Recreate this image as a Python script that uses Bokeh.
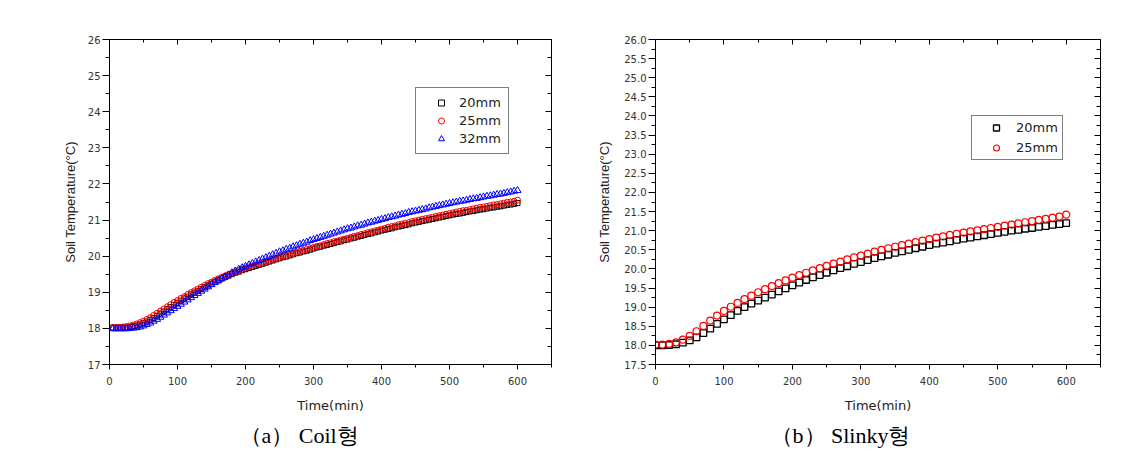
from bokeh.plotting import figure
from bokeh.layouts import row
from bokeh.models import (FixedTicker, LinearAxis, Legend, LegendItem, Title,
                          PrintfTickFormatter, Range1d, CustomJSTickFormatter)
from bokeh.embed import file_html
from bokeh.resources import INLINE

# ---------------- data: (a) Coil type ----------------
coil_time = list(range(5, 601, 5))
coil_20mm = [18.02, 18.02, 18.02, 18.02, 18.03, 18.04, 18.06, 18.08, 18.11, 18.15,
             18.19, 18.24, 18.29, 18.35, 18.41, 18.47, 18.53, 18.59, 18.65, 18.71,
             18.77, 18.83, 18.88, 18.94, 18.99, 19.04, 19.09, 19.14, 19.19, 19.24,
             19.29, 19.33, 19.38, 19.42, 19.46, 19.50, 19.54, 19.57, 19.61, 19.64,
             19.67, 19.70, 19.73, 19.76, 19.79, 19.82, 19.85, 19.88, 19.91, 19.94,
             19.97, 19.99, 20.02, 20.05, 20.08, 20.10, 20.13, 20.15, 20.18, 20.21,
             20.24, 20.26, 20.29, 20.31, 20.34, 20.36, 20.39, 20.41, 20.44, 20.46,
             20.49, 20.51, 20.54, 20.56, 20.59, 20.61, 20.63, 20.66, 20.68, 20.71,
             20.73, 20.75, 20.77, 20.80, 20.82, 20.84, 20.86, 20.88, 20.91, 20.93,
             20.95, 20.97, 20.99, 21.01, 21.03, 21.05, 21.07, 21.09, 21.11, 21.13,
             21.15, 21.17, 21.18, 21.20, 21.22, 21.24, 21.25, 21.27, 21.29, 21.30,
             21.32, 21.34, 21.35, 21.37, 21.38, 21.40, 21.42, 21.43, 21.45, 21.47]
coil_25mm = [18.03, 18.03, 18.03, 18.04, 18.05, 18.07, 18.09, 18.12, 18.16, 18.20,
             18.25, 18.30, 18.36, 18.42, 18.48, 18.54, 18.60, 18.66, 18.72, 18.77,
             18.83, 18.88, 18.94, 18.99, 19.04, 19.09, 19.14, 19.19, 19.24, 19.28,
             19.33, 19.37, 19.41, 19.45, 19.49, 19.53, 19.57, 19.60, 19.64, 19.67,
             19.70, 19.73, 19.76, 19.79, 19.82, 19.85, 19.88, 19.91, 19.94, 19.97,
             20.00, 20.02, 20.05, 20.08, 20.11, 20.13, 20.16, 20.19, 20.21, 20.24,
             20.27, 20.29, 20.32, 20.35, 20.37, 20.40, 20.42, 20.45, 20.47, 20.50,
             20.52, 20.55, 20.57, 20.60, 20.62, 20.65, 20.67, 20.70, 20.72, 20.75,
             20.77, 20.80, 20.82, 20.84, 20.87, 20.89, 20.91, 20.93, 20.96, 20.98,
             21.00, 21.02, 21.04, 21.06, 21.08, 21.10, 21.12, 21.14, 21.16, 21.18,
             21.20, 21.22, 21.24, 21.26, 21.27, 21.29, 21.31, 21.33, 21.35, 21.36,
             21.38, 21.40, 21.42, 21.43, 21.45, 21.47, 21.49, 21.50, 21.52, 21.55]
coil_32mm = [17.99, 17.99, 17.99, 17.99, 17.99, 18.00, 18.01, 18.02, 18.04, 18.07,
             18.11, 18.15, 18.20, 18.25, 18.31, 18.37, 18.43, 18.49, 18.55, 18.61,
             18.67, 18.73, 18.79, 18.85, 18.91, 18.97, 19.03, 19.09, 19.15, 19.21,
             19.27, 19.32, 19.38, 19.43, 19.48, 19.54, 19.59, 19.64, 19.68, 19.72,
             19.76, 19.80, 19.84, 19.88, 19.92, 19.96, 20.00, 20.04, 20.08, 20.12,
             20.15, 20.19, 20.22, 20.26, 20.29, 20.33, 20.36, 20.39, 20.43, 20.46,
             20.49, 20.52, 20.55, 20.58, 20.61, 20.64, 20.67, 20.70, 20.73, 20.76,
             20.78, 20.81, 20.84, 20.86, 20.89, 20.92, 20.94, 20.97, 20.99, 21.02,
             21.04, 21.07, 21.09, 21.11, 21.14, 21.16, 21.18, 21.21, 21.23, 21.25,
             21.27, 21.29, 21.31, 21.34, 21.36, 21.38, 21.40, 21.42, 21.44, 21.46,
             21.48, 21.50, 21.52, 21.53, 21.55, 21.57, 21.59, 21.60, 21.62, 21.64,
             21.66, 21.67, 21.69, 21.71, 21.72, 21.74, 21.76, 21.78, 21.80, 21.82]

# ---------------- data: (b) Slinky type ----------------
slinky_time = list(range(0, 601, 10))
slinky_20mm = [18.00, 18.00, 18.01, 18.03, 18.07, 18.13, 18.21, 18.32, 18.44, 18.56,
               18.68, 18.79, 18.90, 19.00, 19.09, 19.17, 19.25, 19.33, 19.41, 19.49,
               19.57, 19.64, 19.71, 19.78, 19.84, 19.90, 19.96, 20.02, 20.07, 20.13,
               20.18, 20.23, 20.28, 20.33, 20.37, 20.42, 20.46, 20.50, 20.54, 20.58,
               20.62, 20.66, 20.69, 20.72, 20.76, 20.79, 20.82, 20.85, 20.88, 20.91,
               20.94, 20.97, 21.00, 21.02, 21.05, 21.07, 21.10, 21.12, 21.15, 21.17,
               21.20]
slinky_25mm = [18.02, 18.02, 18.04, 18.08, 18.15, 18.25, 18.37, 18.51, 18.65, 18.78,
               18.90, 19.01, 19.11, 19.21, 19.30, 19.39, 19.47, 19.55, 19.63, 19.70,
               19.77, 19.84, 19.90, 19.96, 20.02, 20.08, 20.14, 20.19, 20.25, 20.30,
               20.35, 20.40, 20.45, 20.50, 20.54, 20.58, 20.62, 20.66, 20.70, 20.74,
               20.78, 20.82, 20.85, 20.89, 20.92, 20.95, 20.98, 21.01, 21.04, 21.07,
               21.10, 21.13, 21.16, 21.19, 21.22, 21.25, 21.28, 21.31, 21.34, 21.37,
               21.42]

x_major = [0, 100, 200, 300, 400, 500, 600]
x_minor = [50, 150, 250, 350, 450, 550, 650]
coil_y_major = [17, 18, 19, 20, 21, 22, 23, 24, 25, 26]
coil_y_minor = [17.5, 18.5, 19.5, 20.5, 21.5, 22.5, 23.5, 24.5, 25.5]
slinky_y_major = [17.5, 18.0, 18.5, 19.0, 19.5, 20.0, 20.5, 21.0, 21.5, 22.0,
                  22.5, 23.0, 23.5, 24.0, 24.5, 25.0, 25.5, 26.0]
slinky_y_minor = [17.75, 18.25, 18.75, 19.25, 19.75, 20.25, 20.75, 21.25, 21.75,
                  22.25, 22.75, 23.25, 23.75, 24.25, 24.75, 25.25, 25.75]

TICK_FONT = "DejaVu Sans"
TICK_COLOR = "#333333"
Y_TITLE = "Soil Temperature(\u00b0C)"


def style_axes(p, y_major, y_minor, ylabel_size, ylab_standoff, fmt=None):
    xa = p.xaxis[0]
    ya = p.yaxis[0]
    xa.ticker = FixedTicker(ticks=x_major, minor_ticks=x_minor)
    ya.ticker = FixedTicker(ticks=y_major, minor_ticks=y_minor)
    if fmt is not None:
        ya.formatter = fmt
    for ax in (xa, ya):
        ax.axis_line_color = "black"
        ax.major_tick_line_color = "black"
        ax.minor_tick_line_color = "black"
        ax.major_label_text_font = TICK_FONT
        ax.major_label_text_font_size = "10px"
        ax.major_label_text_color = TICK_COLOR
    xa.major_tick_in = 0
    xa.major_tick_out = 5
    xa.minor_tick_in = 0
    xa.minor_tick_out = 3
    xa.major_label_standoff = 7
    xa.axis_label = "Time(min)"
    xa.axis_label_text_font = "DejaVu Sans"
    xa.axis_label_text_font_size = "13px"
    xa.axis_label_text_font_style = "normal"
    xa.axis_label_text_color = "#222222"
    xa.axis_label_standoff = 10
    ya.major_tick_in = 0
    ya.major_tick_out = 7
    ya.minor_tick_in = 0
    ya.minor_tick_out = 4
    ya.major_label_standoff = 2

    # y-axis title as a side title (rotated, bottom-to-top)
    p.add_layout(Title(text=Y_TITLE, align="center", text_font="Liberation Sans",
                       text_font_size=ylabel_size, text_font_style="normal",
                       text_color="#222222", standoff=ylab_standoff), "left")

    # mirror axes (top/right) with ticks only
    blank = CustomJSTickFormatter(code="return ''")
    top = LinearAxis(ticker=FixedTicker(ticks=x_major, minor_ticks=x_minor),
                     formatter=blank, axis_label=None, major_label_standoff=0,
                     major_tick_in=5, major_tick_out=0, minor_tick_in=3, minor_tick_out=0)
    right = LinearAxis(ticker=FixedTicker(ticks=y_major, minor_ticks=y_minor),
                       formatter=blank, axis_label=None, major_label_standoff=0,
                       major_tick_in=6, major_tick_out=0, minor_tick_in=4, minor_tick_out=0)
    p.add_layout(top, "above")
    p.add_layout(right, "right")
    p.xgrid.visible = False
    p.ygrid.visible = False
    p.outline_line_color = "black"
    p.outline_line_width = 1


# ---------------- figure (a) ----------------
p1 = figure(width=584, height=452, x_range=Range1d(0, 650), y_range=Range1d(17, 26),
            output_backend="svg", toolbar_location=None,
            min_border_left=109, min_border_right=33, min_border_top=39, min_border_bottom=87)
style_axes(p1, coil_y_major, coil_y_minor, "13px", 14)

r20 = p1.scatter(coil_time, coil_20mm, marker="square", size=5, fill_color=None,
                 line_color="black", line_width=1)
r25 = p1.scatter(coil_time, coil_25mm, marker="circle", size=6, fill_color=None,
                 line_color="red", line_width=1)
r32 = p1.scatter(coil_time, coil_32mm, marker="triangle", size=7, fill_color=None,
                 line_color="blue", line_width=1)

leg1 = Legend(items=[LegendItem(label="20mm", renderers=[r20]),
                     LegendItem(label="25mm", renderers=[r25]),
                     LegendItem(label="32mm", renderers=[r32])],
              location=(306, 210), padding=7, spacing=3, glyph_width=36, glyph_height=15,
              label_height=15, label_standoff=0, label_text_font="DejaVu Sans",
              label_text_font_size="13px", label_text_color="#222222",
              border_line_color="black", border_line_width=1, background_fill_alpha=1,
              margin=0)
p1.add_layout(leg1)
p1.add_layout(Title(text="\uff08a\uff09 Coil\ud615", align="left", offset=130,
                    text_font="Liberation Serif", text_font_size="22px",
                    text_font_style="normal", text_color="black", standoff=10), "below")

# ---------------- figure (b) ----------------
p2 = figure(width=555, height=452, x_range=Range1d(0, 650), y_range=Range1d(17.5, 26),
            output_backend="svg", toolbar_location=None,
            min_border_left=68, min_border_right=39, min_border_top=39, min_border_bottom=86)
style_axes(p2, slinky_y_major, slinky_y_minor, "13px", 20, PrintfTickFormatter(format="%.1f"))

s20 = p2.scatter(slinky_time, slinky_20mm, marker="square", size=6.5, fill_color=None,
                 line_color="black", line_width=1.3)
s25 = p2.scatter(slinky_time, slinky_25mm, marker="circle", size=7, fill_color=None,
                 line_color="red", line_width=1.2)

leg2 = Legend(items=[LegendItem(label="20mm", renderers=[s20]),
                     LegendItem(label="25mm", renderers=[s25])],
              location=(316, 204), padding=4, spacing=5, glyph_width=40, glyph_height=15,
              label_height=15, label_standoff=0, label_text_font="DejaVu Sans",
              label_text_font_size="13px", label_text_color="#222222",
              border_line_color="black", border_line_width=1, background_fill_alpha=1,
              margin=0)
p2.add_layout(leg2)
p2.add_layout(Title(text="\uff08b\uff09 Slinky\ud615", align="left", offset=115,
                    text_font="Liberation Serif", text_font_size="22px",
                    text_font_style="normal", text_color="black", standoff=10), "below")

layout = row(p1, p2)
open("out.html", "w").write(file_html(layout, INLINE))
